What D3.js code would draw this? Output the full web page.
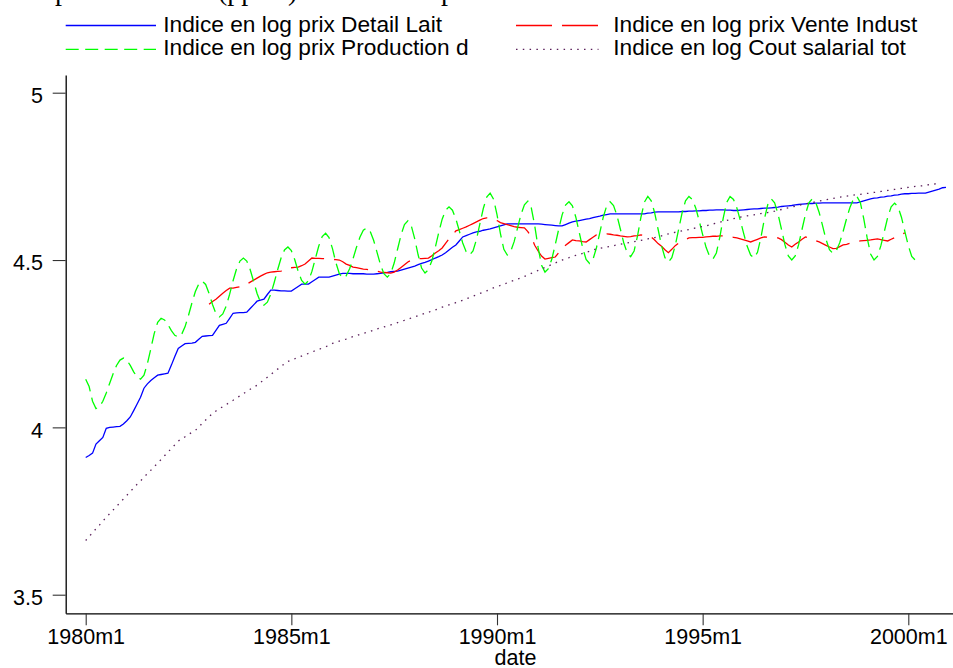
<!DOCTYPE html>
<html>
<head>
<meta charset="utf-8">
<script src="https://cdn.jsdelivr.net/npm/d3@7"></script>
<style>
  body { margin: 0; background: #fff; }
  svg { display: block; }
</style>
</head>
<body>
<div id="chart"></div>
<script>
const width = 953
const height = 668

// monthly series, month 0 = 1980m1
const seriesLabels = [
  "Indice en log prix Detail Lait",
  "Indice en log prix Vente Indust",
  "Indice en log prix Production d",
  "Indice en log Cout salarial tot"
]
const xTickMonths = [0, 60, 120, 180, 240]
const xTickLabels = ["1980m1", "1985m1", "1990m1", "1995m1", "2000m1"]
const yTickValues = [3.5, 4, 4.5, 5]

const detailLaitStart = 0
const detailLait = [
  3.910, 3.916, 3.923, 3.950, 3.960, 3.970, 3.997, 4.000, 4.001, 4.002, 4.003, 4.010,
  4.020, 4.031, 4.050, 4.070, 4.090, 4.117, 4.130, 4.140, 4.148, 4.156, 4.158, 4.160,
  4.162, 4.186, 4.212, 4.236, 4.243, 4.250, 4.251, 4.252, 4.254, 4.263, 4.272, 4.273,
  4.274, 4.275, 4.290, 4.305, 4.308, 4.311, 4.326, 4.341, 4.342, 4.343, 4.343, 4.344,
  4.355, 4.366, 4.377, 4.380, 4.383, 4.397, 4.410, 4.410, 4.409, 4.408, 4.408, 4.407,
  4.407, 4.414, 4.421, 4.428, 4.428, 4.428, 4.435, 4.442, 4.449, 4.449, 4.449, 4.449,
  4.452, 4.455, 4.458, 4.460, 4.460, 4.460, 4.459, 4.459, 4.459, 4.459, 4.458, 4.458,
  4.458, 4.459, 4.460, 4.462, 4.463, 4.465, 4.466, 4.467, 4.470, 4.473, 4.476, 4.479,
  4.482, 4.486, 4.490, 4.493, 4.497, 4.501, 4.506, 4.510, 4.515, 4.522, 4.530, 4.538,
  4.545, 4.557, 4.569, 4.573, 4.577, 4.581, 4.584, 4.586, 4.589, 4.591, 4.593, 4.596,
  4.599, 4.602, 4.605, 4.608, 4.608, 4.608, 4.608, 4.608, 4.608, 4.608, 4.608, 4.608,
  4.608, 4.607, 4.606, 4.605, 4.604, 4.603, 4.602, 4.602, 4.606, 4.610, 4.614, 4.616,
  4.618, 4.620, 4.622, 4.624, 4.627, 4.629, 4.631, 4.634, 4.636, 4.638, 4.638, 4.638,
  4.638, 4.638, 4.638, 4.638, 4.638, 4.638, 4.638, 4.638, 4.640, 4.641, 4.643, 4.644,
  4.644, 4.644, 4.644, 4.644, 4.644, 4.644, 4.645, 4.645, 4.646, 4.646, 4.647, 4.647,
  4.648, 4.648, 4.649, 4.649, 4.650, 4.650, 4.650, 4.649, 4.649, 4.648, 4.648, 4.649,
  4.650, 4.651, 4.652, 4.653, 4.653, 4.654, 4.655, 4.655, 4.656, 4.657, 4.658, 4.660,
  4.661, 4.662, 4.663, 4.665, 4.666, 4.667, 4.668, 4.669, 4.669, 4.670, 4.670, 4.671,
  4.671, 4.671, 4.671, 4.671, 4.671, 4.671, 4.671, 4.671, 4.671, 4.671, 4.674, 4.677,
  4.680, 4.683, 4.685, 4.686, 4.688, 4.689, 4.691, 4.692, 4.694, 4.695, 4.697, 4.698,
  4.698, 4.699, 4.699, 4.700, 4.700, 4.700, 4.703, 4.706, 4.709, 4.712, 4.716, 4.717
]

const venteIndustStart = 36  // 1983m1
const venteIndust = [
  4.368, 4.376, 4.383, 4.392, 4.401, 4.409, 4.416, 4.416, 4.418, 4.420, 4.422, 4.428,
  4.434, 4.440, 4.446, 4.452, 4.457, 4.462, 4.464, 4.465, 4.466, 4.467, 4.471, 4.476,
  4.477, 4.478, 4.479, 4.483, 4.488, 4.497, 4.506, 4.505, 4.505, 4.504, 4.504, 4.503,
  4.502, 4.501, 4.500, 4.495, 4.488, 4.484, 4.479, 4.477, 4.475, 4.473, 4.472, 4.471,
  4.470, 4.467, 4.464, 4.463, 4.462, 4.461, 4.464, 4.470, 4.478, 4.486, 4.494, 4.500,
  4.503, 4.504, 4.504, 4.505, 4.506, 4.513, 4.521, 4.528, 4.536, 4.550, 4.563, 4.575,
  4.587, 4.591, 4.595, 4.599, 4.604, 4.609, 4.614, 4.619, 4.624, 4.626, 4.625, 4.623,
  4.618, 4.612, 4.609, 4.606, 4.603, 4.600, 4.598, 4.597, 4.596, 4.585, 4.569, 4.544,
  4.527, 4.512, 4.503, 4.505, 4.507, 4.509, 4.522, 4.536, 4.544, 4.552, 4.560, 4.558,
  4.557, 4.555, 4.554, 4.561, 4.568, 4.575, 4.576, 4.577, 4.578, 4.577, 4.575, 4.574,
  4.572, 4.571, 4.569, 4.570, 4.572, 4.573, 4.575, 4.573, 4.571, 4.569, 4.560, 4.549,
  4.541, 4.531, 4.522, 4.532, 4.543, 4.551, 4.556, 4.561, 4.566, 4.567, 4.567, 4.568,
  4.568, 4.569, 4.570, 4.571, 4.571, 4.572, 4.572, 4.571, 4.569, 4.568, 4.566, 4.563,
  4.560, 4.557, 4.554, 4.558, 4.562, 4.566, 4.569, 4.568, 4.568, 4.567, 4.566, 4.561,
  4.553, 4.545, 4.539, 4.547, 4.554, 4.562, 4.569, 4.566, 4.562, 4.558, 4.554, 4.549,
  4.544, 4.539, 4.534, 4.535, 4.540, 4.545, 4.547, 4.550, 4.552, 4.555, 4.557, 4.558,
  4.559, 4.560, 4.562, 4.563, 4.561, 4.559, 4.557, 4.562, 4.567, 4.572, 4.577, 4.581
]

const productionStart = 0
const production = [
  4.144, 4.122, 4.078, 4.056, 4.062, 4.078, 4.103, 4.132, 4.160, 4.185, 4.201, 4.207,
  4.201, 4.185, 4.166, 4.150, 4.144, 4.156, 4.190, 4.235, 4.281, 4.314, 4.326, 4.321,
  4.307, 4.289, 4.275, 4.270, 4.278, 4.301, 4.335, 4.372, 4.406, 4.429, 4.437, 4.427,
  4.400, 4.367, 4.340, 4.330, 4.339, 4.363, 4.398, 4.438, 4.473, 4.497, 4.506, 4.497,
  4.471, 4.436, 4.400, 4.374, 4.365, 4.374, 4.398, 4.433, 4.471, 4.506, 4.530, 4.539,
  4.528, 4.501, 4.466, 4.439, 4.428, 4.438, 4.466, 4.504, 4.542, 4.570, 4.580, 4.567,
  4.534, 4.492, 4.459, 4.446, 4.453, 4.474, 4.504, 4.538, 4.568, 4.589, 4.596, 4.586,
  4.559, 4.523, 4.486, 4.459, 4.449, 4.460, 4.491, 4.533, 4.575, 4.606, 4.617, 4.602,
  4.563, 4.515, 4.476, 4.461, 4.471, 4.498, 4.538, 4.582, 4.622, 4.649, 4.659, 4.649,
  4.623, 4.587, 4.551, 4.525, 4.515, 4.527, 4.561, 4.608, 4.654, 4.688, 4.700, 4.682,
  4.636, 4.579, 4.532, 4.515, 4.526, 4.555, 4.596, 4.636, 4.665, 4.676, 4.656, 4.603,
  4.537, 4.484, 4.464, 4.474, 4.503, 4.546, 4.592, 4.635, 4.664, 4.674, 4.662, 4.628,
  4.582, 4.536, 4.502, 4.490, 4.502, 4.536, 4.582, 4.628, 4.662, 4.674, 4.663, 4.633,
  4.592, 4.551, 4.521, 4.510, 4.527, 4.572, 4.628, 4.673, 4.690, 4.677, 4.641, 4.592,
  4.543, 4.507, 4.494, 4.507, 4.543, 4.592, 4.641, 4.677, 4.690, 4.681, 4.655, 4.617,
  4.576, 4.538, 4.512, 4.503, 4.521, 4.568, 4.625, 4.672, 4.690, 4.681, 4.655, 4.618,
  4.578, 4.541, 4.515, 4.506, 4.523, 4.567, 4.622, 4.666, 4.683, 4.671, 4.637, 4.592,
  4.546, 4.512, 4.500, 4.512, 4.546, 4.592, 4.637, 4.671, 4.683, 4.672, 4.642, 4.602,
  4.561, 4.531, 4.520, 4.528, 4.552, 4.586, 4.624, 4.658, 4.682, 4.690, 4.672, 4.624,
  4.566, 4.518, 4.500, 4.511, 4.543, 4.585, 4.628, 4.659, 4.670, 4.659, 4.628, 4.585,
  4.543, 4.511, 4.500
]

const coutSalarialStart = 0
const coutSalarial = [
  3.662, 3.674, 3.685, 3.697, 3.708, 3.720, 3.731, 3.742, 3.753, 3.764, 3.775, 3.786,
  3.797, 3.808, 3.819, 3.830, 3.840, 3.851, 3.862, 3.872, 3.883, 3.893, 3.904, 3.915,
  3.926, 3.937, 3.948, 3.959, 3.966, 3.972, 3.979, 3.985, 3.991, 4.001, 4.012, 4.022,
  4.032, 4.042, 4.049, 4.055, 4.062, 4.068, 4.075, 4.081, 4.088, 4.094, 4.101, 4.107,
  4.114, 4.120, 4.126, 4.134, 4.142, 4.150, 4.158, 4.166, 4.174, 4.182, 4.190, 4.197,
  4.201, 4.205, 4.209, 4.213, 4.217, 4.221, 4.225, 4.229, 4.233, 4.237, 4.241, 4.245,
  4.251, 4.254, 4.258, 4.261, 4.264, 4.268, 4.271, 4.274, 4.278, 4.281, 4.284, 4.287,
  4.290, 4.294, 4.297, 4.300, 4.303, 4.306, 4.309, 4.313, 4.316, 4.320, 4.323, 4.327,
  4.330, 4.334, 4.337, 4.341, 4.344, 4.348, 4.351, 4.355, 4.359, 4.362, 4.366, 4.369,
  4.373, 4.376, 4.380, 4.384, 4.388, 4.392, 4.396, 4.400, 4.404, 4.408, 4.413, 4.417,
  4.420, 4.424, 4.428, 4.432, 4.436, 4.439, 4.443, 4.447, 4.451, 4.455, 4.460, 4.464,
  4.469, 4.473, 4.478, 4.482, 4.487, 4.491, 4.496, 4.500, 4.504, 4.507, 4.511, 4.514,
  4.517, 4.520, 4.523, 4.526, 4.530, 4.533, 4.535, 4.537, 4.539, 4.541, 4.543, 4.545,
  4.547, 4.549, 4.551, 4.553, 4.555, 4.557, 4.559, 4.561, 4.563, 4.565, 4.567, 4.569,
  4.572, 4.575, 4.578, 4.581, 4.583, 4.585, 4.587, 4.589, 4.591, 4.594, 4.596, 4.598,
  4.600, 4.602, 4.605, 4.608, 4.610, 4.613, 4.616, 4.618, 4.621, 4.624, 4.626, 4.628,
  4.630, 4.632, 4.634, 4.635, 4.637, 4.639, 4.641, 4.642, 4.644, 4.646, 4.649, 4.651,
  4.654, 4.656, 4.658, 4.661, 4.663, 4.666, 4.668, 4.670, 4.672, 4.674, 4.676, 4.678,
  4.680, 4.682, 4.684, 4.686, 4.688, 4.689, 4.691, 4.692, 4.694, 4.695, 4.696, 4.698,
  4.699, 4.700, 4.702, 4.703, 4.705, 4.706, 4.708, 4.710, 4.711, 4.713, 4.714, 4.716,
  4.717, 4.719, 4.720, 4.721, 4.722, 4.724, 4.725, 4.726, 4.728
]

const series = [
  { values: detailLait, start: detailLaitStart, color: "#0000ff", dash: null },
  { values: venteIndust, start: venteIndustStart, color: "#ff0000", dash: "36,10" },
  { values: production, start: productionStart, color: "#00ff00", dash: "13,6.5" },
  { values: coutSalarial, start: coutSalarialStart, color: "#5a1f5a", dash: "1.5,5.3" }
]

const plotLeft = 65.7
const plotRight = 953
const plotTop = 75
const plotBottom = 613.3

const x = d3.scaleLinear().domain([0, 240]).range([85.7, 908.3])
const y = d3.scaleLinear().domain([3.5, 5]).range([594.7, 92.7])

// axis scales stretched to the full frame
const xAxisScale = x.copy().domain([x.invert(plotLeft), x.invert(plotRight)]).range([plotLeft, plotRight])
const yAxisScale = y.copy().domain([y.invert(plotBottom), y.invert(plotTop)]).range([plotBottom, plotTop])

const svg = d3.select("#chart")
  .append("svg")
  .attr("width", width).attr("height", height)

// title, mostly above the frame (only the descenders show)
const title = svg.append("text")
  .attr("y", 0)
  .style("font-family", "'Liberation Serif', 'Times New Roman', serif")
  .style("font-size", "28px")
  .attr("fill", "#000")
title.append("tspan").attr("x", 55).text("p")
title.append("tspan").attr("x", 218).text("(pp")
title.append("tspan").attr("x", 288).text(")")
title.append("tspan").attr("x", 441).text("p")

const line = d3.line()
  .x(d => x(d.m))
  .y(d => y(d.v))

series.forEach(s => {
  const pts = s.values.map((v, i) => ({ m: s.start + i, v: v }))
  svg.append("path")
    .datum(pts)
    .attr("fill", "none")
    .attr("stroke", s.color)
    .attr("stroke-width", 1.3)
    .attr("stroke-dasharray", s.dash)
    .attr("d", line)
})

const fontSans = "'Liberation Sans', Arial, Helvetica, sans-serif"

// y axis
const yAxis = svg.append("g")
  .attr("transform", `translate(${plotLeft},0)`)
  .call(d3.axisLeft(yAxisScale).tickValues(yTickValues).tickSize(13).tickSizeOuter(0)
    .tickPadding(9.7).tickFormat(d3.format("")))
yAxis.select(".domain").attr("stroke", "#000").attr("stroke-width", 1.3)
yAxis.selectAll(".tick line").attr("stroke", "#333").attr("stroke-width", 1.1)
yAxis.selectAll(".tick text")
  .attr("dy", "0.45em")
  .style("font-family", fontSans).style("font-size", "21.5px").attr("fill", "#000")

// x axis
const xAxis = svg.append("g")
  .attr("transform", `translate(0,${plotBottom})`)
  .call(d3.axisBottom(xAxisScale).tickValues(xTickMonths).tickSize(12).tickSizeOuter(0)
    .tickFormat((d, i) => xTickLabels[i]))
xAxis.select(".domain").attr("stroke", "#000").attr("stroke-width", 1.3)
xAxis.selectAll(".tick line").attr("stroke", "#333").attr("stroke-width", 1.1)
xAxis.selectAll(".tick text")
  .attr("y", 31).attr("dy", 0)
  .style("font-family", fontSans).style("font-size", "21.5px").attr("fill", "#000")

svg.append("text")
  .attr("x", 515.5).attr("y", 665)
  .attr("text-anchor", "middle")
  .style("font-family", fontSans).style("font-size", "21.5px")
  .text("date")

// legend, two columns
const legendItems = [
  { x1: 65.7, x2: 156, ly: 25.5, tx: 163.3, ty: 31.7 },
  { x1: 516, x2: 598.5, ly: 25.5, tx: 613.3, ty: 31.7 },
  { x1: 65.7, x2: 156, ly: 49.3, tx: 163.3, ty: 55.2 },
  { x1: 516, x2: 598.5, ly: 49.3, tx: 613.3, ty: 55.2 }
]
const legend = svg.append("g").attr("class", "legend")
legendItems.forEach((item, i) => {
  legend.append("line")
    .attr("x1", item.x1).attr("x2", item.x2)
    .attr("y1", item.ly).attr("y2", item.ly)
    .attr("stroke", series[i].color)
    .attr("stroke-width", 1.3)
    .attr("stroke-dasharray", series[i].dash)
  legend.append("text")
    .attr("x", item.tx).attr("y", item.ty)
    .style("font-family", fontSans).style("font-size", "22.7px")
    .attr("fill", "#000")
    .text(seriesLabels[i])
})
</script>
</body>
</html>
